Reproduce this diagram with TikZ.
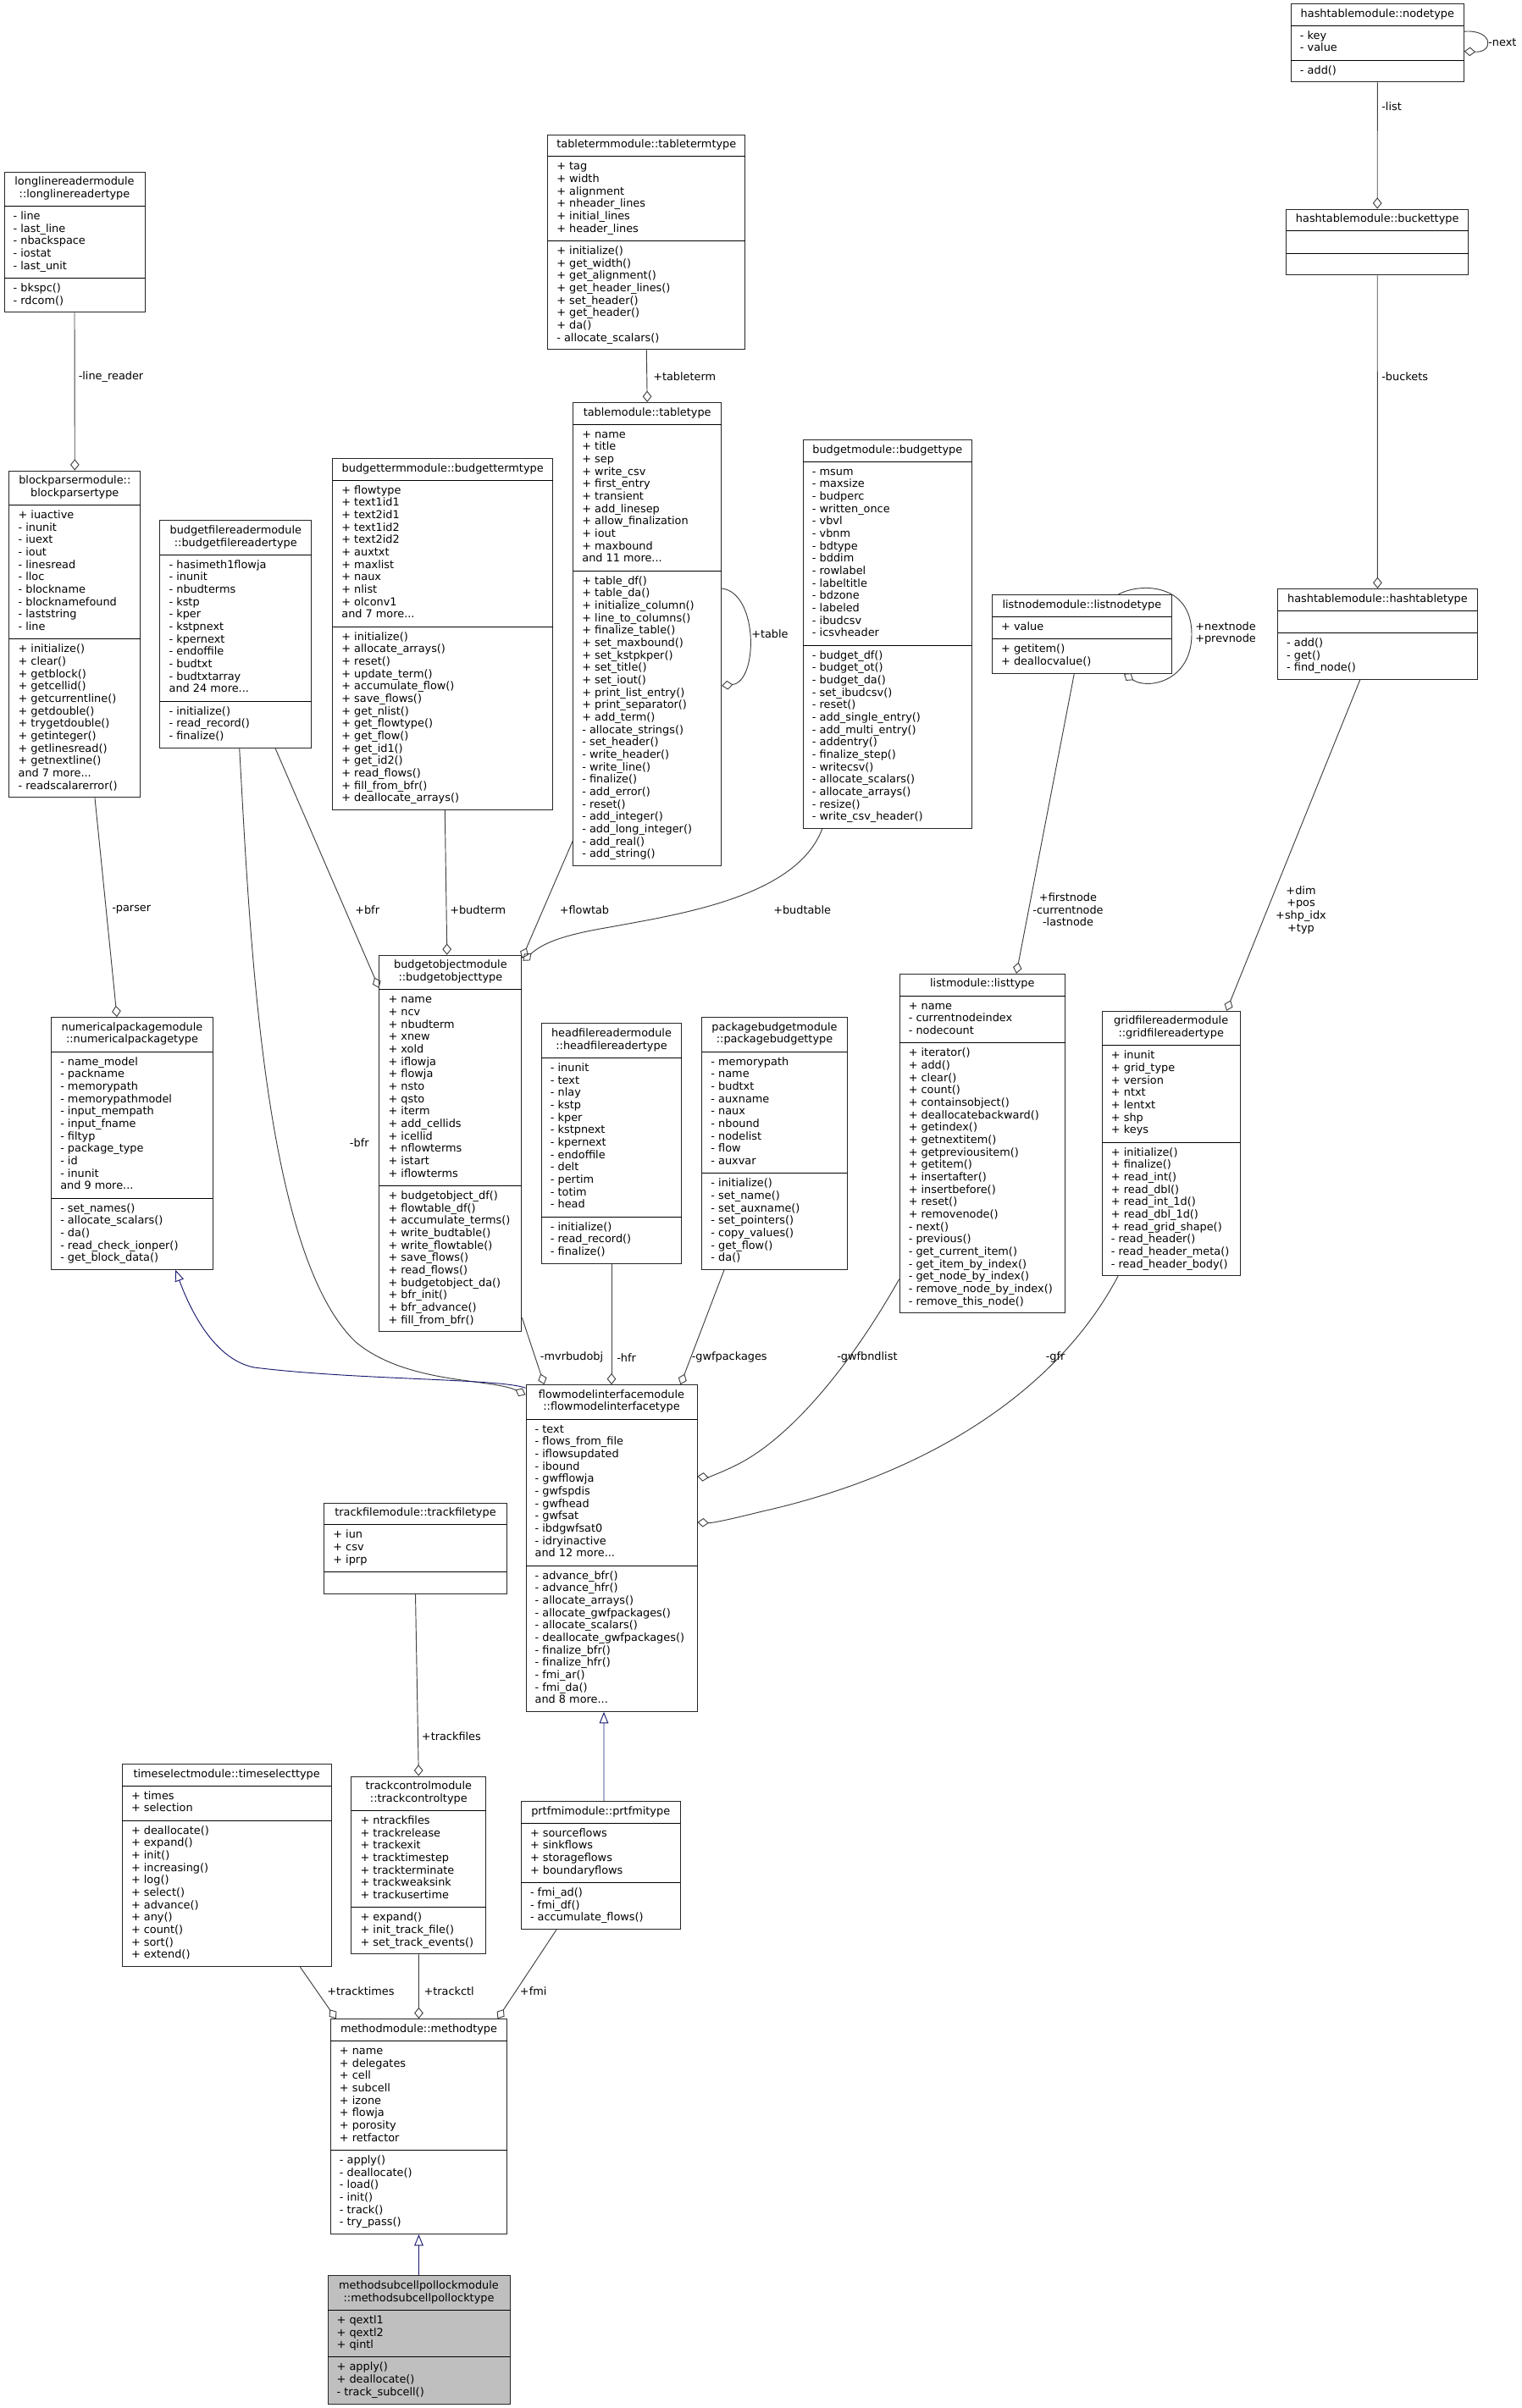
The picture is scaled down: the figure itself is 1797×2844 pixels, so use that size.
\documentclass[tikz,border=0pt]{standalone}
\usepackage{fontspec}
\setmainfont{DejaVu Sans}
\usetikzlibrary{arrows.meta,calc}
\definecolor{navy}{HTML}{191970}
\definecolor{edgegray}{HTML}{404040}
\definecolor{selfill}{HTML}{BFBFBF}
\setlength\arrayrulewidth{0.7pt}
\hyphenpenalty=10000 \exhyphenpenalty=10000
\newcommand\T[1]{\multicolumn{1}{@{}c@{}}{#1}}
\newcommand\umlbox[7][]{%
  \node[umlbox,#1] (#2) at (#3) {%
    \begin{tabular}{@{\hspace{8pt}}p{\dimexpr#4pt*3/4-16pt\relax}@{\hspace{8pt}}}
    \noalign{\vskip4pt}#5\\\noalign{\vskip4pt}\hline\noalign{\vskip4pt}%
    #6\\\noalign{\vskip4pt}\hline\noalign{\vskip4pt}%
    #7\\\noalign{\vskip4pt}%
    \end{tabular}};}
\tikzset{
  umlbox/.style={draw=black!85, line width=0.7pt, fill=white, inner sep=0pt, anchor=center,
    font=\fontsize{9.65}{11}\selectfont},
  assoc/.style={draw=edgegray, line width=0.7pt, -{Diamond[open,length=10pt,width=8pt]}},
  inherit/.style={draw=navy, line width=0.7pt, -{Triangle[open,length=10pt,width=8pt]}},
  lab/.style={font=\fontsize{9.65}{11}\selectfont, inner sep=0pt, anchor=west, align=center},
}
\begin{document}
\begin{tikzpicture}[x=0.75pt,y=-0.75pt]
\fill[white] (0,0) rectangle (1797,2844);
\useasboundingbox (0,0) rectangle (1797,2844);

% rank 0
\umlbox{nodetype}{1626.3,50.7}{204}{\T{hashtablemodule::nodetype}}{- key\\- value}{- add()}
% rank 1
\umlbox{buckettype}{1626.2,286}{215}{\T{hashtablemodule::buckettype}}{}{}
\umlbox{tableterm}{763.3,286}{233.3}{\T{tabletermmodule::tabletermtype}}%
{+ tag\\+ width\\+ alignment\\+ nheader\_lines\\+ initial\_lines\\+ header\_lines}%
{+ initialize()\\+ get\_width()\\+ get\_alignment()\\+ get\_header\_lines()\\+ set\_header()\\+ get\_header()\\+ da()\\- allocate\_scalars()}
\umlbox{longline}{88,286}{166}{\T{longlinereadermodule}\\\T{::longlinereadertype}}%
{- line\\- last\_line\\- nbackspace\\- iostat\\- last\_unit}{- bkspc()\\- rdcom()}
% rank 2
\umlbox{blockparser}{88.3,749}{154.7}{\T{blockparsermodule::}\\\T{blockparsertype}}%
{+ iuactive\\- inunit\\- iuext\\- iout\\- linesread\\- lloc\\- blockname\\- blocknamefound\\- laststring\\- line}%
{+ initialize()\\+ clear()\\+ getblock()\\+ getcellid()\\+ getcurrentline()\\+ getdouble()\\+ trygetdouble()\\+ getinteger()\\+ getlinesread()\\+ getnextline()\\and 7 more...\\- readscalarerror()}
\umlbox{bfreader}{278.3,749}{178.7}{\T{budgetfilereadermodule}\\\T{::budgetfilereadertype}}%
{- hasimeth1flowja\\- inunit\\- nbudterms\\- kstp\\- kper\\- kstpnext\\- kpernext\\- endoffile\\- budtxt\\- budtxtarray\\and 24 more...}%
{- initialize()\\- read\_record()\\- finalize()}
\umlbox{budgetterm}{522.7,749}{260}{\T{budgettermmodule::budgettermtype}}%
{+ flowtype\\+ text1id1\\+ text2id1\\+ text1id2\\+ text2id2\\+ auxtxt\\+ maxlist\\+ naux\\+ nlist\\+ olconv1\\and 7 more...}%
{+ initialize()\\+ allocate\_arrays()\\+ reset()\\+ update\_term()\\+ accumulate\_flow()\\+ save\_flows()\\+ get\_nlist()\\+ get\_flowtype()\\+ get\_flow()\\+ get\_id1()\\+ get\_id2()\\+ read\_flows()\\+ fill\_from\_bfr()\\+ deallocate\_arrays()}
\umlbox{tablemodule}{764.2,749}{175}{\T{tablemodule::tabletype}}%
{+ name\\+ title\\+ sep\\+ write\_csv\\+ first\_entry\\+ transient\\+ add\_linesep\\+ allow\_finalization\\+ iout\\+ maxbound\\and 11 more...}%
{+ table\_df()\\+ table\_da()\\+ initialize\_column()\\+ line\_to\_columns()\\+ finalize\_table()\\+ set\_maxbound()\\+ set\_kstpkper()\\+ set\_title()\\+ set\_iout()\\+ print\_list\_entry()\\+ print\_separator()\\+ add\_term()\\- allocate\_strings()\\- set\_header()\\- write\_header()\\- write\_line()\\- finalize()\\- add\_error()\\- reset()\\- add\_integer()\\- add\_long\_integer()\\- add\_real()\\- add\_string()}
\umlbox{budgetmodule}{1047.8,749}{199}{\T{budgetmodule::budgettype}}%
{- msum\\- maxsize\\- budperc\\- written\_once\\- vbvl\\- vbnm\\- bdtype\\- bddim\\- rowlabel\\- labeltitle\\- bdzone\\- labeled\\- ibudcsv\\- icsvheader}%
{- budget\_df()\\- budget\_ot()\\- budget\_da()\\- set\_ibudcsv()\\- reset()\\- add\_single\_entry()\\- add\_multi\_entry()\\- addentry()\\- finalize\_step()\\- writecsv()\\- allocate\_scalars()\\- allocate\_arrays()\\- resize()\\- write\_csv\_header()}
\umlbox{listnode}{1277.4,749}{211.8}{\T{listnodemodule::listnodetype}}{+ value}{+ getitem()\\+ deallocvalue()}
\umlbox{hashtabletype}{1626.4,749}{235.8}{\T{hashtablemodule::hashtabletype}}{}{- add()\\- get()\\- find\_node()}
% rank 3
\umlbox{numerical}{156,1350.5}{190.8}{\T{numericalpackagemodule}\\\T{::numericalpackagetype}}%
{- name\_model\\- packname\\- memorypath\\- memorypathmodel\\- input\_mempath\\- input\_fname\\- filtyp\\- package\_type\\- id\\- inunit\\and 9 more...}%
{- set\_names()\\- allocate\_scalars()\\- da()\\- read\_check\_ionper()\\- get\_block\_data()}
\umlbox{budgetobject}{531.9,1350.5}{168}{\T{budgetobjectmodule}\\\T{::budgetobjecttype}}%
{+ name\\+ ncv\\+ nbudterm\\+ xnew\\+ xold\\+ iflowja\\+ flowja\\+ nsto\\+ qsto\\+ iterm\\+ add\_cellids\\+ icellid\\+ nflowterms\\+ istart\\+ iflowterms}%
{+ budgetobject\_df()\\+ flowtable\_df()\\+ accumulate\_terms()\\+ write\_budtable()\\+ write\_flowtable()\\+ save\_flows()\\+ read\_flows()\\+ budgetobject\_da()\\+ bfr\_init()\\+ bfr\_advance()\\+ fill\_from\_bfr()}
\umlbox{headfile}{722,1350.5}{165.5}{\T{headfilereadermodule}\\\T{::headfilereadertype}}%
{- inunit\\- text\\- nlay\\- kstp\\- kper\\- kstpnext\\- kpernext\\- endoffile\\- delt\\- pertim\\- totim\\- head}%
{- initialize()\\- read\_record()\\- finalize()}
\umlbox{packagebudget}{914.5,1350.5}{171.4}{\T{packagebudgetmodule}\\\T{::packagebudgettype}}%
{- memorypath\\- name\\- budtxt\\- auxname\\- naux\\- nbound\\- nodelist\\- flow\\- auxvar}%
{- initialize()\\- set\_name()\\- set\_auxname()\\- set\_pointers()\\- copy\_values()\\- get\_flow()\\- da()}
\umlbox{listmodule}{1159.8,1350.5}{195.4}{\T{listmodule::listtype}}%
{+ name\\- currentnodeindex\\- nodecount}%
{+ iterator()\\+ add()\\+ clear()\\+ count()\\+ containsobject()\\+ deallocatebackward()\\+ getindex()\\+ getnextitem()\\+ getpreviousitem()\\+ getitem()\\+ insertafter()\\+ insertbefore()\\+ reset()\\+ removenode()\\- next()\\- previous()\\- get\_current\_item()\\- get\_item\_by\_index()\\- get\_node\_by\_index()\\- remove\_node\_by\_index()\\- remove\_this\_node()}
\umlbox{gridfile}{1382.7,1350.5}{162.8}{\T{gridfilereadermodule}\\\T{::gridfilereadertype}}%
{+ inunit\\+ grid\_type\\+ version\\+ ntxt\\+ lentxt\\+ shp\\+ keys}%
{+ initialize()\\+ finalize()\\+ read\_int()\\+ read\_dbl()\\+ read\_int\_1d()\\+ read\_dbl\_1d()\\+ read\_grid\_shape()\\- read\_header()\\- read\_header\_meta()\\- read\_header\_body()}
% rank 4
\umlbox{flowmodel}{722,1828.6}{202}{\T{flowmodelinterfacemodule}\\\T{::flowmodelinterfacetype}}%
{- text\\- flows\_from\_file\\- iflowsupdated\\- ibound\\- gwfflowja\\- gwfspdis\\- gwfhead\\- gwfsat\\- ibdgwfsat0\\- idryinactive\\and 12 more...}%
{- advance\_bfr()\\- advance\_hfr()\\- allocate\_arrays()\\- allocate\_gwfpackages()\\- allocate\_scalars()\\- deallocate\_gwfpackages()\\- finalize\_bfr()\\- finalize\_hfr()\\- fmi\_ar()\\- fmi\_da()\\and 8 more...}
\umlbox{trackfile}{490.5,1828.6}{215.6}{\T{trackfilemodule::trackfiletype}}{+ iun\\+ csv\\+ iprp}{}
% rank 5
\umlbox{timeselect}{267.7,2203}{246.7}{\T{timeselectmodule::timeselecttype}}%
{+ times\\+ selection}%
{+ deallocate()\\+ expand()\\+ init()\\+ increasing()\\+ log()\\+ select()\\+ advance()\\+ any()\\+ count()\\+ sort()\\+ extend()}
\umlbox{trackcontrol}{494.3,2203}{158.7}{\T{trackcontrolmodule}\\\T{::trackcontroltype}}%
{+ ntrackfiles\\+ trackrelease\\+ trackexit\\+ tracktimestep\\+ trackterminate\\+ trackweaksink\\+ trackusertime}%
{+ expand()\\+ init\_track\_file()\\+ set\_track\_events()}
\umlbox{prtfmi}{709.2,2203}{187.7}{\T{prtfmimodule::prtfmitype}}%
{+ sourceflows\\+ sinkflows\\+ storageflows\\+ boundaryflows}%
{- fmi\_ad()\\- fmi\_df()\\- accumulate\_flows()}
% rank 6
\umlbox{methodmodule}{494.5,2511.6}{208.4}{\T{methodmodule::methodtype}}%
{+ name\\+ delegates\\+ cell\\+ subcell\\+ izone\\+ flowja\\+ porosity\\+ retfactor}%
{- apply()\\- deallocate()\\- load()\\- init()\\- track()\\- try\_pass()}
% rank 7
\umlbox[fill=selfill]{methodsubcell}{494.5,2763.4}{215}{\T{methodsubcellpollockmodule}\\\T{::methodsubcellpollocktype}}%
{+ qextl1\\+ qextl2\\+ qintl}%
{+ apply()\\+ deallocate()\\- track\_subcell()}

% ---------- connectors ----------
\draw[assoc] ($(nodetype.north east)+(0,33.2)$) .. controls +(35,-2.6) and +(35,2) .. ($(nodetype.north east)+(0,56.6)$);
\draw[assoc] (nodetype.south) -- (buckettype.north);
\draw[assoc] (buckettype.south) -- (hashtabletype.north);
\draw[assoc] (longline.south) -- (blockparser.north);
\draw[assoc] (tableterm.south) -- (tablemodule.north);
\draw[assoc] ($(tablemodule.east)+(0,-54)$) .. controls +(43.3,5) and +(43.3,-5) .. ($(tablemodule.east)+(0,61)$);
\draw[assoc] ($(listnode.north)+(42.6,0)$) .. controls (1345,688) and (1407,688) .. (1407,749)
   .. controls (1407,805) and (1355,815) .. ($(listnode.south)+(49.6,0)$);
\draw[assoc] ($(blockparser.south)+(23.7,0)$) -- ($(numerical.north)+(-17.9,0)$);
\draw[assoc] ($(bfreader.south)+(46.7,0)$) -- ($(budgetobject.north west)+(0,39)$);
\draw[assoc] ($(budgetterm.south)+(2.6,0)$) -- ($(budgetobject.north)+(-4.1,0)$);
\draw[assoc] ($(tablemodule.south west)+(0,-30)$) -- ($(budgetobject.north east)+(0,4)$);
\draw[assoc] ($(budgetmodule.south)+(-77.1,0)$) .. controls (940,1060) and (800,1080) .. (720,1095)
   .. controls (660,1105) and (640,1115) .. ($(budgetobject.north east)+(1,7)$);
\draw[assoc] ($(listnode.south)+(-9.1,0)$) -- ($(listmodule.north)+(40.2,0)$);
\draw[assoc] ($(hashtabletype.south)+(-20.7,0)$) -- ($(gridfile.north east)+(-16.5,0)$);
\draw[assoc] ($(bfreader.south)+(4.4,0)$) .. controls (295,1100) and (310,1480) .. (420,1585)
   .. controls (480,1635) and (580,1628) .. ($(flowmodel.north west)+(0,12)$);
\draw[inherit] ($(flowmodel.north west)+(0,4)$) .. controls (590,1628) and (420,1630) .. (300,1615)
   .. controls (250,1605) and (222,1540) .. ($(numerical.south)+(51.2,0)$);
\draw[assoc] ($(budgetobject.south east)+(0,-17)$) -- ($(flowmodel.north west)+(22,0)$);
\draw[assoc] (headfile.south) -- (flowmodel.north);
\draw[assoc] ($(packagebudget.south)+(-59.5,0)$) -- ($(flowmodel.north east)+(-20,0)$);
\draw[assoc] ($(listmodule.south west)+(0,-40.4)$) .. controls (1000,1620) and (930,1700) .. (870,1730)
   .. controls (850,1740) and (835,1745) .. ($(flowmodel.north east)+(0,108.3)$);
\draw[assoc] ($(gridfile.south)+(-62.7,0)$) .. controls (1250,1640) and (1100,1740) .. (900,1785)
   .. controls (860,1795) and (840,1799) .. ($(flowmodel.north east)+(0,162.6)$);
\draw[inherit] ($(prtfmi.north)+(3.8,0)$) -- ($(flowmodel.south)+(-9,0)$);
\draw[assoc] (trackfile.south) -- (trackcontrol.north);
\draw[assoc] ($(timeselect.south)+(86.6,0)$) -- ($(methodmodule.north west)+(7,0)$);
\draw[assoc] (trackcontrol.south) -- (methodmodule.north);
\draw[assoc] ($(prtfmi.south)+(-52.2,0)$) -- ($(methodmodule.north east)+(-11.7,0)$);
\draw[inherit] (methodsubcell.north) -- (methodmodule.south);

% ---------- labels ----------
\node[lab] (l-next) at (1757,50) {-next};
\node[lab] (l-list) at (1631,126) {-list};
\node[lab] (l-linereader) at (92.5,445) {-line\_reader};
\node[lab] (l-tableterm) at (771,445) {+tableterm};
\node[lab] (l-buckets) at (1631,445) {-buckets};
\node[lab] (l-table) at (887,749) {+table};
\node[lab] (l-nextnode) at (1411,748) {+nextnode\\+prevnode};
\node[lab] (l-parser) at (132,1074.5) {-parser};
\node[lab] (l-bfr1) at (419,1074.5) {+bfr};
\node[lab] (l-budterm) at (531,1074.5) {+budterm};
\node[lab] (l-flowtab) at (660.5,1074.5) {+flowtab};
\node[lab] (l-budtable) at (913,1074.5) {+budtable};
\node[lab,anchor=center] (l-firstnode) at (1261,1074.5) {+firstnode\\-currentnode\\-lastnode};
\node[lab,anchor=center] (l-dim) at (1536,1074.5) {+dim\\+pos\\+shp\_idx\\+typ};
\node[lab] (l-bfr2) at (412.7,1350) {-bfr};
\node[lab] (l-mvr) at (637.7,1603.3) {-mvrbudobj};
\node[lab] (l-hfr) at (728,1603.3) {-hfr};
\node[lab] (l-gwfp) at (816.5,1603.3) {-gwfpackages};
\node[lab] (l-gwfb) at (988,1603.3) {-gwfbndlist};
\node[lab] (l-gfr) at (1234.5,1603.3) {-gfr};
\node[lab] (l-trackfiles) at (497.7,2051) {+trackfiles};
\node[lab] (l-tracktimes) at (386,2351.7) {+tracktimes};
\node[lab] (l-trackctl) at (500.3,2351.7) {+trackctl};
\node[lab] (l-fmi) at (613.7,2351.7) {+fmi};
\end{tikzpicture}
\end{document}
